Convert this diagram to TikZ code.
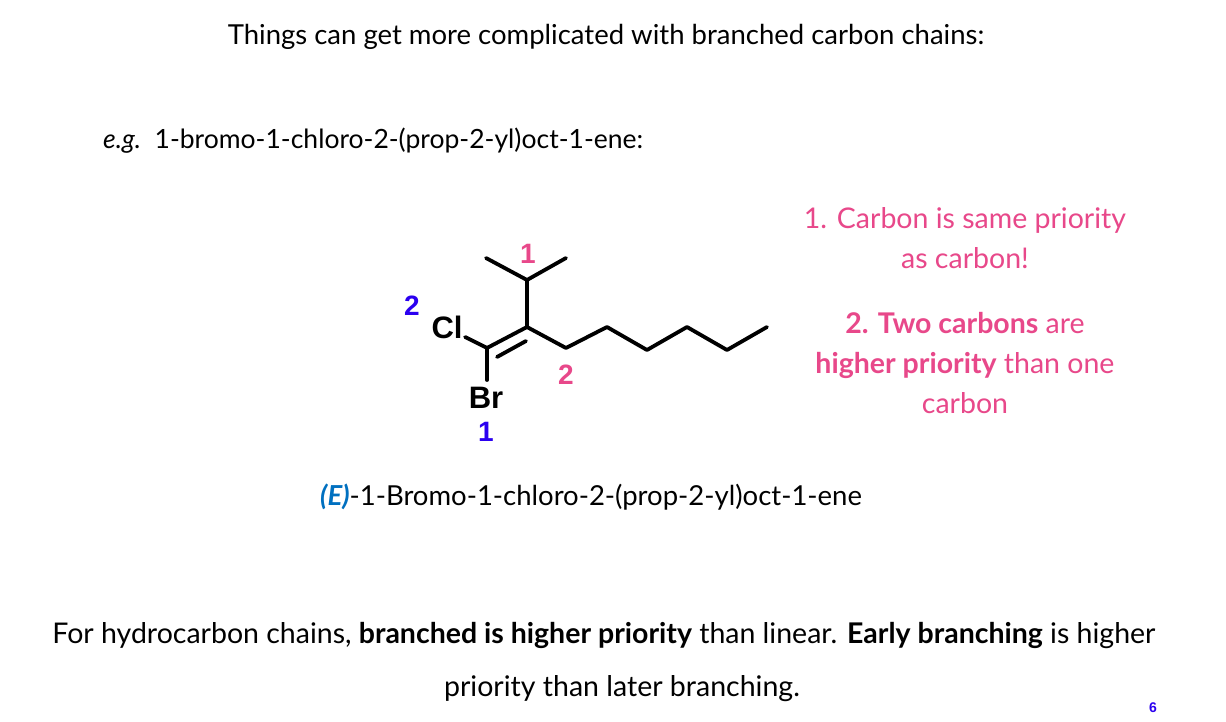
\documentclass[tikz,border=0pt]{standalone}
\usepackage{fontspec}
\setmainfont{Lato}
\newfontfamily\arialf{Liberation Sans}
\definecolor{pk}{HTML}{E8488A}
\definecolor{bl}{HTML}{2B00F0}
\definecolor{eb}{HTML}{0070C0}
\begin{document}
\begin{tikzpicture}[x=1pt,y=-1pt,
  txt/.style={font=\fontsize{28.5}{34}\selectfont, inner sep=0pt},
  pinkt/.style={txt, text=pk, align=center, font=\fontsize{28.5}{40}\selectfont},
  atom/.style={font=\arialf\bfseries\fontsize{31}{34}\selectfont, inner sep=0pt},
  bnum/.style={font=\arialf\bfseries\fontsize{28}{30}\selectfont, text=bl},
  pnum/.style={font=\arialf\bfseries\fontsize{28}{30}\selectfont, text=pk},
  bond/.style={line width=3.8pt, line cap=round, line join=round}]
\useasboundingbox[fill=white] (0,0) rectangle (1226,722);
\node[txt, font=\fontsize{27.5}{34}\selectfont] (title) at (606,37) {Things can get more complicated with branched carbon chains:};
\node[txt, anchor=west, font=\fontsize{26.5}{34}\selectfont] (eg) at (103,141) {\textit{e.g.}\ \ 1-bromo-1-chloro-2-(prop-2-yl)oct-1-ene:};
\coordinate (c1) at (487,348);
\coordinate (c2) at (527,327);
\coordinate (ch) at (527,280);
\coordinate (m1) at (486,258);
\coordinate (m2) at (566,258);
\coordinate (a1) at (566,348);
\coordinate (a2) at (607,327);
\coordinate (a3) at (647,350);
\coordinate (a4) at (687,327);
\coordinate (a5) at (727,350);
\coordinate (a6) at (767,327);
\coordinate (d1) at (497,357);
\coordinate (d2) at (526,341);
\coordinate (clb) at (465,337);
\coordinate (brb) at (487,380);
\node[atom] (cl) at (447,327) {Cl};
\node[atom] (br) at (486,398) {Br};
\draw[bond] (m1) -- (ch) -- (m2);
\draw[bond] (ch) -- (c2) -- (c1);
\draw[bond] (c2) -- (a1) -- (a2) -- (a3) -- (a4) -- (a5) -- (a6);
\draw[bond] (d1) -- (d2);
\draw[bond] (clb) -- (c1);
\draw[bond] (c1) -- (brb);
\node[pnum] (p1) at (528,254) {1};
\node[pnum] (p2) at (566,375) {2};
\node[bnum] (b2) at (412,306) {2};
\node[bnum] (b1) at (486,432) {1};
\node[pinkt] (r1) at (965,238) {1. Carbon is same priority\\as carbon!};
\node[pinkt] (r2) at (965,363) {\textbf{2. Two carbons} are\\\textbf{higher priority} than one\\carbon};
\node[txt, font=\fontsize{27.5}{34}\selectfont] (name) at (591,497) {\textcolor{eb}{\textbf{\textit{(E)}}}-1-Bromo-1-chloro-2-(prop-2-yl)oct-1-ene};
\node[txt] (f1) at (604,636) {For hydrocarbon chains, \textbf{branched is higher priority} than linear. \textbf{Early branching} is higher};
\node[txt] (f2) at (622,689) {priority than later branching.};
\node[font=\arialf\bfseries\fontsize{14}{16}\selectfont, text=bl] (pg) at (1153,708) {6};
\end{tikzpicture}
\end{document}
